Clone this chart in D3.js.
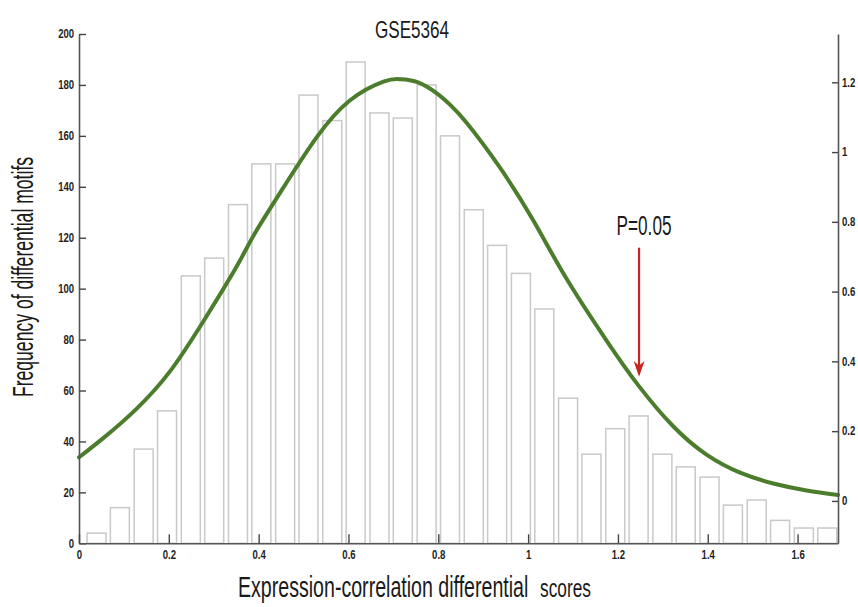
<!DOCTYPE html>
<html>
<head>
<meta charset="utf-8">
<script src="https://cdn.jsdelivr.net/npm/d3@7"></script>
<style>
  html, body { margin: 0; padding: 0; background: #fff; }
  svg { display: block; }
  .lab { font-family: "Liberation Sans", Arial, sans-serif; }
</style>
</head>
<body>
<svg id="chart" width="858" height="607"></svg>
<script>
// ---------- data ----------
const binCenters = [0.039, 0.091, 0.144, 0.196, 0.249, 0.301, 0.354, 0.406, 0.459, 0.511,
                    0.564, 0.616, 0.669, 0.721, 0.774, 0.826, 0.879, 0.931, 0.984, 1.036,
                    1.089, 1.141, 1.194, 1.246, 1.299, 1.351, 1.404, 1.456, 1.509, 1.561,
                    1.614, 1.666];
const frequencies = [4, 14, 37, 52, 105, 112, 133, 149, 149, 176,
                     166, 189, 169, 167, 180, 160, 131, 117, 106, 92,
                     57, 35, 45, 50, 35, 30, 26, 15, 17, 9,
                     6, 6];
const binWidth = 0.0423;

const curveX = [0, 0.054, 0.128, 0.203, 0.277, 0.351, 0.392, 0.455, 0.529, 0.603,
                0.678, 0.715, 0.752, 0.796, 0.826, 0.863, 0.937, 1.012, 1.086, 1.175,
                1.245, 1.323, 1.398, 1.472, 1.546, 1.620, 1.690];
const curveY = [0.125, 0.180, 0.264, 0.372, 0.515, 0.672, 0.768, 0.898, 1.042, 1.148,
                1.202, 1.209, 1.201, 1.169, 1.136, 1.084, 0.956, 0.803, 0.636, 0.459,
                0.332, 0.214, 0.132, 0.081, 0.050, 0.030, 0.017];

const xTicks = [0, 0.2, 0.4, 0.6, 0.8, 1, 1.2, 1.4, 1.6];
const xTickLabels = ["0", "0.2", "0.4", "0.6", "0.8", "1", "1.2", "1.4", "1.6"];
const yLeftTicks = [0, 20, 40, 60, 80, 100, 120, 140, 160, 180, 200];
const yRightTicks = [0, 0.2, 0.4, 0.6, 0.8, 1, 1.2];
const yRightTickLabels = ["0", "0.2", "0.4", "0.6", "0.8", "1", "1.2"];

const arrowX = 1.247;      // x position of the P=0.05 marker
const arrowTop = 0.726;    // right-axis units
const arrowTip = 0.356;

const titleText = "GSE5364";
const xLabelMain = "Expression-correlation differential";
const xLabelSmall = "scores";
const yLabel = "Frequency of differential motifs";
const pLabel = "P=0.05";

// ---------- layout ----------
const plotL = 79, plotR = 838, plotT = 34, plotB = 543.3;
const svg = d3.select("#chart");

const x = d3.scaleLinear().domain([0, 1.69]).range([plotL, plotR]);
const yL = d3.scaleLinear().domain([0, 200]).range([plotB, plotT]);
const yR = d3.scaleLinear().domain([-0.1215, 1.3385]).range([plotB, plotT]);

// bars
svg.append("g").selectAll("rect")
  .data(binCenters)
  .join("rect")
  .attr("x", (d) => x(d - binWidth / 2))
  .attr("width", x(binWidth) - x(0))
  .attr("y", (d, i) => yL(frequencies[i]))
  .attr("height", (d, i) => yL(0) - yL(frequencies[i]))
  .attr("fill", "#fff")
  .attr("stroke", "#c9c9c9")
  .attr("stroke-width", 1.5);

// curve
const line = d3.line()
  .x((d, i) => x(curveX[i]))
  .y((d) => yR(d))
  .curve(d3.curveNatural);
svg.append("path")
  .datum(curveY)
  .attr("d", line)
  .attr("fill", "none")
  .attr("stroke", "#4b7d2c")
  .attr("stroke-width", 4)
  .attr("stroke-linecap", "round");

// axes
function styleAxis(g) {
  g.attr("font-family", null).attr("font-size", null);
  g.selectAll(".domain").attr("stroke", "#555").attr("stroke-width", 1.6);
  g.selectAll(".tick line").attr("stroke", "#444").attr("stroke-width", 1.4);
  g.selectAll(".tick text")
    .attr("class", "lab")
    .attr("fill", "#1e1e1e")
    .attr("transform", "scale(0.8,1)")
    .style("font-size", "12px")
    .style("font-weight", "bold");
}

svg.append("g")
  .attr("transform", `translate(${plotL},0)`)
  .call(d3.axisLeft(yL).tickValues(yLeftTicks).tickFormat(d3.format("d"))
        .tickSizeInner(-7).tickSizeOuter(0).tickPadding(6))
  .call(styleAxis);

svg.append("g")
  .attr("transform", `translate(${plotR},0)`)
  .call(d3.axisRight(yR).tickValues(yRightTicks).tickFormat((d, i) => yRightTickLabels[i])
        .tickSizeInner(-6).tickSizeOuter(0).tickPadding(5))
  .call(styleAxis);

svg.append("g")
  .attr("transform", `translate(0,${plotB})`)
  .call(d3.axisBottom(x).tickValues(xTicks).tickFormat((d, i) => xTickLabels[i])
        .tickSizeInner(-9).tickSizeOuter(0).tickPadding(7))
  .call(styleAxis);

// arrow
const ax = x(arrowX), ay0 = yR(arrowTop), ay1 = yR(arrowTip);
svg.append("line")
  .attr("x1", ax).attr("x2", ax)
  .attr("y1", ay0).attr("y2", ay1 - 8)
  .attr("stroke", "#c8251f").attr("stroke-width", 2.2);
svg.append("path")
  .attr("d", `M${ax},${ay1} L${ax - 5.5},${ay1 - 16} L${ax},${ay1 - 11} L${ax + 5.5},${ay1 - 16} Z`)
  .attr("fill", "#c8251f");

// vertically stretched text (condensed look like the original)
function tallText(tx, ty, rot, sy, str, size, anchor) {
  const g = svg.append("g").attr("transform", `translate(${tx},${ty}) rotate(${rot}) scale(1,${sy})`);
  g.append("text")
    .attr("class", "lab")
    .attr("text-anchor", anchor)
    .attr("fill", "#1a1a1a")
    .style("font-size", size + "px")
    .text(str);
  return g;
}

// P label
tallText(ax + 5, ay0 - 12.5, 0, 1.59, pLabel, 17.2, "middle");

// title
tallText(412, 38, 0, 1.35, titleText, 17.1, "middle");

// y label
tallText(33, 277, -90, 1.7, yLabel, 17.6, "middle");

// x label
tallText(238, 597, 0, 1.47, xLabelMain, 19.6, "start");
tallText(540, 597, 0, 1.46, xLabelSmall, 17.3, "start");
</script>
</body>
</html>
